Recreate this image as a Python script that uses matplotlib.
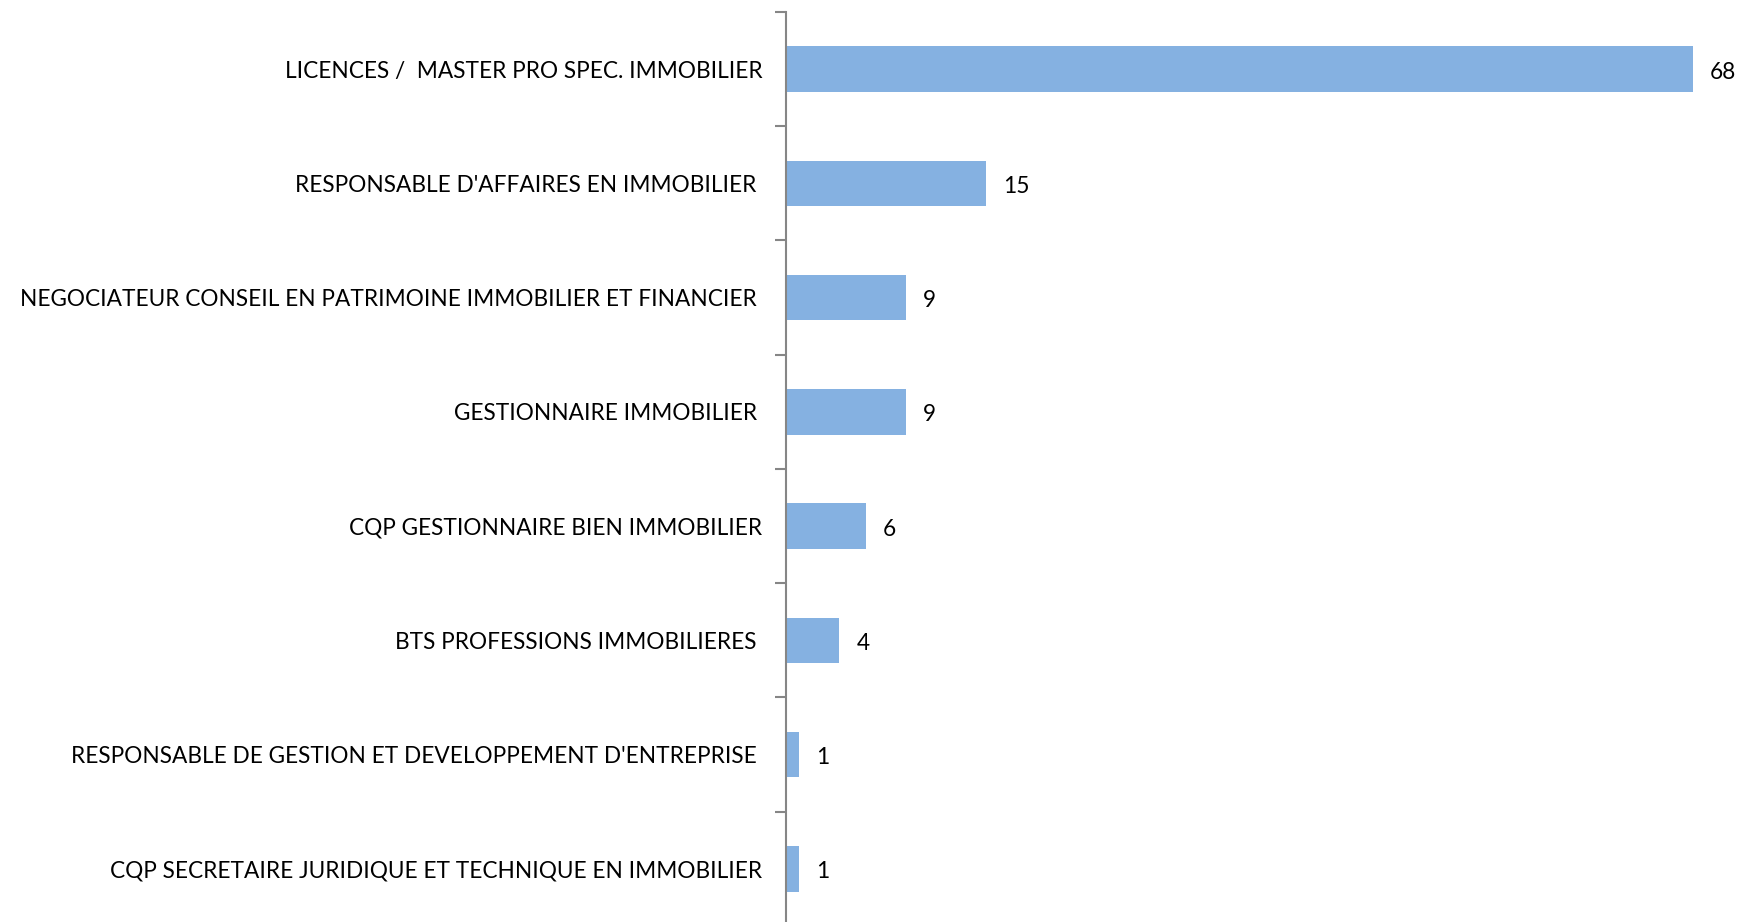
import matplotlib
matplotlib.use("Agg")
import matplotlib.pyplot as plt

categories = [
    "LICENCES /  MASTER PRO SPEC. IMMOBILIER",
    "RESPONSABLE D'AFFAIRES EN IMMOBILIER ",
    "NEGOCIATEUR CONSEIL EN PATRIMOINE IMMOBILIER ET FINANCIER ",
    "GESTIONNAIRE IMMOBILIER ",
    "CQP GESTIONNAIRE BIEN IMMOBILIER",
    "BTS PROFESSIONS IMMOBILIERES ",
    "RESPONSABLE DE GESTION ET DEVELOPPEMENT D'ENTREPRISE ",
    "CQP SECRETAIRE JURIDIQUE ET TECHNIQUE EN IMMOBILIER",
]
values = [68, 15, 9, 9, 6, 4, 1, 1]

W, H = 1742, 922
fig = plt.figure(figsize=(W / 100, H / 100), dpi=100)
ax_left = 786 / W
ax_top = 12
ax_bottom = 926
ax_width = 70 * 13.34 / W
ax = fig.add_axes([ax_left, 1 - ax_bottom / H, ax_width, (ax_bottom - ax_top) / H])

ypos = list(range(len(categories)))
ax.barh(ypos, values, height=0.40, color="#85B1E1", zorder=2)
ax.set_ylim(len(categories) - 0.5, -0.5)
ax.set_xlim(0, 70)

font = "Lato"
fs = 16.3
ax.set_yticks(ypos)
ax.set_yticklabels(categories, fontsize=fs, family=font, color="#000000", va="center_baseline")
ax.set_yticks([i - 0.5 for i in range(len(categories) + 1)], minor=True)
ax.tick_params(axis="y", which="major", length=0, pad=17)
ax.tick_params(axis="y", which="minor", length=8, width=1.5, color="#868686")
ax.set_xticks([])
for s in ["top", "right", "bottom"]:
    ax.spines[s].set_visible(False)
ax.spines["left"].set_color("#868686")
ax.spines["left"].set_linewidth(1.5)

for y, v in zip(ypos, values):
    ax.annotate(str(v), (v, y), xytext=(17, -1), textcoords="offset pixels",
                va="center_baseline", ha="left", fontsize=fs, family=font, color="#000000")

fig.savefig("out.png", dpi=100)
